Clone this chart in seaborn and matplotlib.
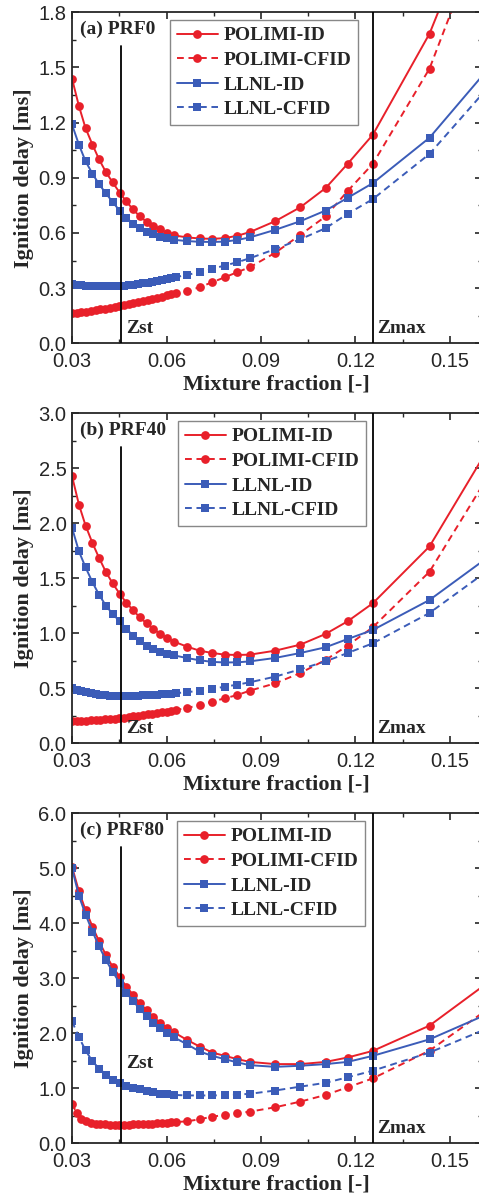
import matplotlib
matplotlib.use('Agg')
import matplotlib.pyplot as plt
import seaborn as sns
from matplotlib.ticker import MultipleLocator, FormatStrFormatter

# mixture fraction grids (dense part + shared tail)
z_tail = [0.0665, 0.0705, 0.0745, 0.0785, 0.0825, 0.0865, 0.0945, 0.1025, 0.1105, 0.1175, 0.1255, 0.1435, 0.1615]
z_id = [0.030, 0.0322, 0.0343, 0.0365, 0.0386, 0.0408, 0.0429, 0.0451, 0.0472, 0.0494, 0.0515,
        0.0537, 0.0558, 0.058, 0.0601, 0.0623] + z_tail
z_cf = [0.030, 0.0315, 0.033, 0.0345, 0.036, 0.0375, 0.039, 0.0405, 0.042, 0.0435, 0.045, 0.0465,
        0.048, 0.0495, 0.051, 0.0525, 0.054, 0.0555, 0.057, 0.0585, 0.060, 0.0615, 0.063] + z_tail

z_st = 0.0455
z_max = 0.1255

# (a) PRF0
a_pol_id = [1.44, 1.29, 1.17, 1.08, 1.00, 0.93, 0.875, 0.82, 0.772, 0.728, 0.69, 0.661, 0.638, 0.619, 0.601, 0.587,
            0.576, 0.570, 0.568, 0.572, 0.585, 0.605, 0.664, 0.74, 0.844, 0.976, 1.134, 1.684, 2.45]
a_pol_cf = [0.163, 0.166, 0.169, 0.172, 0.176, 0.180, 0.184, 0.188, 0.192, 0.197, 0.202, 0.207, 0.212, 0.218,
            0.224, 0.230, 0.236, 0.242, 0.248, 0.254, 0.260, 0.266, 0.272,
            0.283, 0.305, 0.332, 0.359, 0.387, 0.414, 0.492, 0.59, 0.69, 0.828, 0.976, 1.494, 2.3]
a_llnl_id = [1.19, 1.08, 0.99, 0.922, 0.865, 0.815, 0.768, 0.722, 0.683, 0.651, 0.626, 0.607, 0.593, 0.58, 0.571, 0.563,
             0.556, 0.552, 0.551, 0.553, 0.562, 0.576, 0.617, 0.664, 0.722, 0.791, 0.871, 1.118, 1.48]
a_llnl_cf = [0.322, 0.318, 0.315, 0.313, 0.312, 0.311, 0.310, 0.310, 0.310, 0.311, 0.312, 0.314, 0.316, 0.319,
             0.322, 0.326, 0.330, 0.334, 0.339, 0.344, 0.349, 0.354, 0.36,
             0.372, 0.387, 0.405, 0.423, 0.441, 0.463, 0.512, 0.566, 0.626, 0.704, 0.784, 1.03, 1.38]

# (b) PRF40
b_pol_id = [2.43, 2.17, 1.98, 1.82, 1.685, 1.555, 1.455, 1.36, 1.28, 1.21, 1.145, 1.09, 1.04, 0.995, 0.958, 0.925,
            0.879, 0.842, 0.821, 0.806, 0.803, 0.806, 0.842, 0.897, 0.994, 1.109, 1.273, 1.79, 2.65]
b_pol_cf = [0.205, 0.205, 0.206, 0.207, 0.209, 0.211, 0.214, 0.217, 0.221, 0.225, 0.229, 0.234, 0.239, 0.244,
            0.250, 0.256, 0.262, 0.268, 0.275, 0.282, 0.289, 0.296, 0.303,
            0.321, 0.348, 0.379, 0.409, 0.439, 0.479, 0.545, 0.639, 0.758, 0.888, 1.055, 1.56, 2.4]
b_llnl_id = [1.96, 1.745, 1.6, 1.464, 1.35, 1.25, 1.176, 1.11, 1.04, 0.98, 0.933, 0.888, 0.858, 0.833, 0.815, 0.80,
             0.775, 0.755, 0.74, 0.735, 0.736, 0.745, 0.776, 0.821, 0.873, 0.948, 1.03, 1.303, 1.68]
b_llnl_cf = [0.50, 0.485, 0.472, 0.462, 0.453, 0.446, 0.441, 0.437, 0.434, 0.432, 0.431, 0.431, 0.431, 0.432,
             0.433, 0.435, 0.437, 0.439, 0.442, 0.445, 0.448, 0.452, 0.456,
             0.464, 0.479, 0.494, 0.515, 0.533, 0.555, 0.606, 0.673, 0.745, 0.821, 0.909, 1.185, 1.56]

# (c) PRF80
c_pol_id = [5.03, 4.58, 4.24, 3.94, 3.67, 3.42, 3.21, 3.03, 2.85, 2.70, 2.55, 2.42, 2.30, 2.19, 2.10, 2.02,
            1.88, 1.76, 1.65, 1.59, 1.53, 1.48, 1.44, 1.44, 1.48, 1.56, 1.68, 2.14, 2.9]
c_pol_cf = [0.72, 0.55, 0.45, 0.40, 0.375, 0.36, 0.35, 0.345, 0.34, 0.338, 0.337, 0.338, 0.34, 0.343,
            0.346, 0.35, 0.354, 0.358, 0.363, 0.368, 0.374, 0.38, 0.386,
            0.40, 0.436, 0.485, 0.515, 0.545, 0.576, 0.655, 0.758, 0.879, 1.018, 1.18, 1.685, 2.42]
c_llnl_id = [5.0, 4.50, 4.16, 3.85, 3.58, 3.33, 3.12, 2.92, 2.74, 2.59, 2.44, 2.32, 2.19, 2.09, 2.00, 1.93,
             1.80, 1.67, 1.59, 1.53, 1.47, 1.42, 1.39, 1.41, 1.44, 1.48, 1.59, 1.89, 2.34]
c_llnl_cf = [2.22, 1.93, 1.69, 1.49, 1.36, 1.25, 1.16, 1.10, 1.045, 1.01, 0.98, 0.95, 0.925, 0.905, 0.89, 0.88,
             0.87, 0.87, 0.87, 0.875, 0.885, 0.90, 0.96, 1.03, 1.10, 1.20, 1.32, 1.65, 2.08]

panel_titles = ['(a) PRF0', '(b) PRF40', '(c) PRF80']
y_max = [1.8, 3.0, 6.0]
y_step = [0.3, 0.5, 1.0]

RED = '#e8202a'
BLUE = '#3b5cb8'
SERIF = ['Liberation Serif', 'DejaVu Serif']

sns.set_style('ticks')
plt.rcParams['font.family'] = ['Liberation Sans', 'DejaVu Sans']
plt.rcParams['axes.linewidth'] = 1.3


def draw_series(ax, z, y, color, marker, ms, dashed, label):
    sns.lineplot(x=z, y=y, ax=ax, color=color, marker=marker, markersize=ms,
                 markeredgewidth=0, linewidth=1.4, sort=False,
                 linestyle=(0, (3.5, 2.4)) if dashed else '-', label=label)


def draw_panel(ax, i, pol_id, pol_cf, llnl_id, llnl_cf, z_llnl_cf, leg_x, zst_y):
    draw_series(ax, z_id, pol_id, RED, 'o', 6.3, False, 'POLIMI-ID')
    draw_series(ax, z_cf, pol_cf, RED, 'o', 6.3, True, 'POLIMI-CFID')
    draw_series(ax, z_id, llnl_id, BLUE, 's', 5.2, False, 'LLNL-ID')
    draw_series(ax, z_llnl_cf, llnl_cf, BLUE, 's', 5.2, True, 'LLNL-CFID')

    ax.axvline(z_st, ymin=0, ymax=0.897, color='black', lw=1.3, zorder=4)
    ax.axvline(z_max, color='black', lw=1.3, zorder=4)

    ax.set_xlim(0.03, 0.16)
    ax.set_ylim(0, y_max[i])
    ax.xaxis.set_major_locator(MultipleLocator(0.03))
    ax.xaxis.set_minor_locator(MultipleLocator(0.015))
    ax.yaxis.set_major_locator(MultipleLocator(y_step[i]))
    ax.yaxis.set_minor_locator(MultipleLocator(y_step[i] / 2))
    ax.xaxis.set_major_formatter(FormatStrFormatter('%.2f'))
    ax.yaxis.set_major_formatter(FormatStrFormatter('%.1f'))
    ax.tick_params(which='both', direction='in', top=True, right=True, labelsize=14.5)
    ax.tick_params(axis='x', pad=6)
    ax.tick_params(axis='y', pad=4)
    ax.tick_params(which='major', length=5, width=1.2)
    ax.tick_params(which='minor', length=3, width=1.0)

    ax.set_xlabel('Mixture fraction [-]', fontsize=16, fontweight='bold', family=SERIF, labelpad=3)
    ax.set_ylabel('Ignition delay [ms]', fontsize=16, fontweight='bold', family=SERIF, labelpad=3)

    ax.text(0.02, 0.975, panel_titles[i], transform=ax.transAxes, ha='left', va='top',
            fontsize=14, fontweight='bold', family=SERIF)
    ax.text(0.133, zst_y, 'Zst', transform=ax.transAxes, ha='left', va='center',
            fontsize=14, fontweight='bold', family=SERIF)
    ax.text(0.745, 0.046, 'Zmax', transform=ax.transAxes, ha='left', va='center',
            fontsize=14, fontweight='bold', family=SERIF)

    leg = ax.legend(loc='upper left', bbox_to_anchor=(leg_x, 0.977), borderaxespad=0,
                    frameon=True, fancybox=False, edgecolor='#888888', framealpha=1,
                    handlelength=2.1, handletextpad=0.3, labelspacing=0.36,
                    borderpad=0.35, prop={'family': SERIF, 'weight': 'bold', 'size': 14})
    leg.get_frame().set_linewidth(1.0)


fig = plt.figure(figsize=(4.79, 12), dpi=100)
left = 72 / 479
width = 409.5 / 479
ax_a = fig.add_axes([left, 1 - 343.3 / 1200, width, 331 / 1200])
ax_b = fig.add_axes([left, 1 - 743.3 / 1200, width, 330 / 1200])
ax_c = fig.add_axes([left, 1 - 1143.3 / 1200, width, 330 / 1200])

draw_panel(ax_a, 0, a_pol_id, a_pol_cf, a_llnl_id, a_llnl_cf, z_cf, 0.239, 0.046)
draw_panel(ax_b, 1, b_pol_id, b_pol_cf, b_llnl_id, b_llnl_cf, z_cf, 0.259, 0.046)
draw_panel(ax_c, 2, c_pol_id, c_pol_cf, c_llnl_id, c_llnl_cf, z_id, 0.257, 0.243)

fig.savefig('out.png', dpi=100)
